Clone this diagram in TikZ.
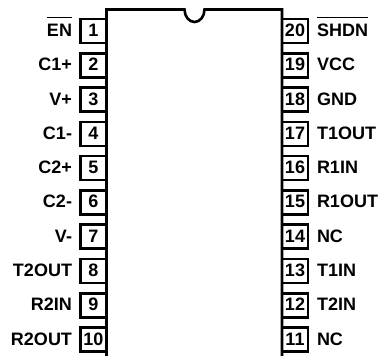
\documentclass[tikz,border=0pt]{standalone}
\usepackage{fontspec}
\setmainfont{Liberation Sans}
\usetikzlibrary{positioning}
\newcommand{\pinbar}[1]{\leavevmode\rlap{\smash{\vbox{\hrule height 1.2pt\kern 6pt\hbox{\phantom{#1}}}}}#1}
\tikzset{
  pinbox/.style={rectangle,draw,line width=2.6pt,outer sep=0pt,minimum width=26pt,minimum height=24pt,inner sep=0pt,text height=13pt,text depth=2pt,font=\fontsize{18}{18}\selectfont\bfseries},
  pinname/.style={outer sep=0pt,inner sep=0pt,text height=13pt,text depth=2pt,font=\fontsize{18}{18}\selectfont\bfseries}
}

\begin{document}
\begin{tikzpicture}[x=1pt,y=1pt,line width=2.6pt,node distance=10.3pt]
    \useasboundingbox (0,0) rectangle (383,356);

    \coordinate (tl) at (106.5,346.5);
    \coordinate (tr) at (282,346.5);
    \coordinate (bl) at (106.5,0);
    \coordinate (br) at (282,0);

    \draw (bl) -- (tl) -- (184.5,346.5) arc[start angle=180,end angle=360,x radius=10,y radius=12.5] -- (tr) -- (br);

    \node[pinbox,anchor=east] (p1) at (106.5,325) {1};
    \node[pinbox,below = of p1] (p2) {2};
    \node[pinbox,below = of p2] (p3) {3};
    \node[pinbox,below = of p3] (p4) {4};
    \node[pinbox,below = of p4] (p5) {5};
    \node[pinbox,below = of p5] (p6) {6};
    \node[pinbox,below = of p6] (p7) {7};
    \node[pinbox,below = of p7] (p8) {8};
    \node[pinbox,below = of p8] (p9) {9};
    \node[pinbox,below = of p9] (p10) {10};

    \node[pinbox,anchor=west] (p20) at (282,325) {20};
    \node[pinbox,below = of p20] (p19) {19};
    \node[pinbox,below = of p19] (p18) {18};
    \node[pinbox,below = of p18] (p17) {17};
    \node[pinbox,below = of p17] (p16) {16};
    \node[pinbox,below = of p16] (p15) {15};
    \node[pinbox,below = of p15] (p14) {14};
    \node[pinbox,below = of p14] (p13) {13};
    \node[pinbox,below = of p13] (p12) {12};
    \node[pinbox,below = of p12] (p11) {11};

    \node[pinname,left = 8.5pt of p1] (en) {\pinbar{EN}};
    \node[pinname,left = 8.5pt of p2] (c1p) {C1+};
    \node[pinname,left = 8.5pt of p3] (vp) {V+};
    \node[pinname,left = 8.5pt of p4] (c1m) {C1-};
    \node[pinname,left = 8.5pt of p5] (c2p) {C2+};
    \node[pinname,left = 8.5pt of p6] (c2m) {C2-};
    \node[pinname,left = 8.5pt of p7] (vm) {V-};
    \node[pinname,left = 8.5pt of p8] (t2out) {T2OUT};
    \node[pinname,left = 8.5pt of p9] (r2in) {R2IN};
    \node[pinname,left = 8.5pt of p10] (r2out) {R2OUT};

    \node[pinname,right = 9pt of p20] (shdn) {\pinbar{SHDN}};
    \node[pinname,right = 9pt of p19] (vcc) {VCC};
    \node[pinname,right = 9pt of p18] (gnd) {GND};
    \node[pinname,right = 9pt of p17] (t1out) {T1OUT};
    \node[pinname,right = 9pt of p16] (r1in) {R1IN};
    \node[pinname,right = 9pt of p15] (r1out) {R1OUT};
    \node[pinname,right = 9pt of p14] (nc14) {NC};
    \node[pinname,right = 9pt of p13] (t1in) {T1IN};
    \node[pinname,right = 9pt of p12] (t2in) {T2IN};
    \node[pinname,right = 9pt of p11] (nc11) {NC};
  \end{tikzpicture}
\end{document}
